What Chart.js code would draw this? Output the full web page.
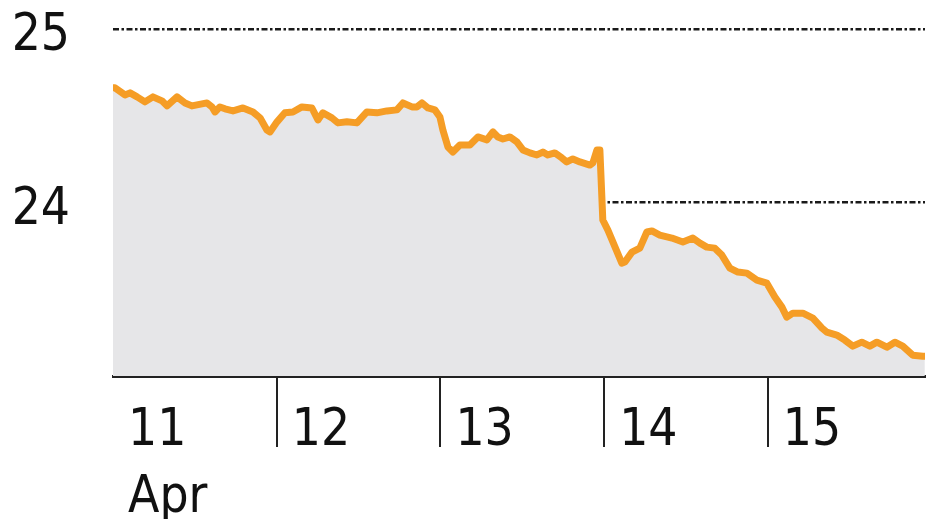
<!DOCTYPE html>
<html>
<head>
<meta charset="utf-8">
<script src="https://cdn.jsdelivr.net/npm/chart.js@4/dist/chart.umd.min.js"></script>
<style>
html,body{margin:0;padding:0;background:#fff;}
#wrap{width:940px;height:519px;}
</style>
</head>
<body>
<div id="wrap"><canvas id="c" width="940" height="519"></canvas></div>
<script>
// Days since start of 11 Apr
const dayOffsets = [0.000,0.012,0.073,0.104,0.147,0.195,0.244,0.299,0.330,0.391,0.440,0.482,0.574,0.605,0.623,0.653,0.684,0.733,0.794,0.855,0.898,0.940,0.959,
1.002,1.050,1.099,1.154,1.215,1.252,1.282,1.337,1.374,1.429,1.490,1.551,1.612,1.673,1.734,1.771,1.826,1.856,1.887,1.924,1.966,1.997,
2.015,2.046,2.076,2.119,2.180,2.229,2.284,2.321,2.351,2.382,2.424,2.467,2.504,2.547,2.589,2.626,2.656,2.699,2.742,2.772,2.809,2.852,2.913,2.931,2.956,2.974,2.992,
3.023,3.108,3.127,3.170,3.218,3.261,3.292,3.340,3.414,3.481,3.542,3.585,3.627,3.676,3.719,3.768,3.817,3.872,3.933,3.994,
4.043,4.086,4.116,4.153,4.214,4.275,4.331,4.360,4.421,4.470,4.519,4.574,4.623,4.666,4.727,4.776,4.824,4.885,4.947,4.959];
const prices = [24.661,24.661,24.620,24.632,24.609,24.580,24.609,24.586,24.557,24.609,24.574,24.557,24.574,24.551,24.522,24.551,24.540,24.528,24.545,24.522,24.488,24.418,24.407,
24.465,24.517,24.522,24.551,24.545,24.476,24.517,24.488,24.459,24.465,24.459,24.522,24.517,24.528,24.534,24.574,24.551,24.551,24.574,24.545,24.534,24.493,
24.418,24.320,24.291,24.332,24.332,24.378,24.361,24.407,24.378,24.366,24.378,24.349,24.303,24.286,24.274,24.291,24.274,24.286,24.257,24.234,24.251,24.234,24.216,24.228,24.303,24.303,23.899,
23.841,23.651,23.657,23.714,23.737,23.830,23.836,23.812,23.795,23.772,23.795,23.766,23.743,23.737,23.697,23.622,23.599,23.593,23.553,23.535,
23.455,23.397,23.339,23.362,23.362,23.334,23.276,23.253,23.236,23.207,23.172,23.195,23.172,23.195,23.166,23.195,23.172,23.120,23.114,23.114];
const xTickValues = [0,1,2,3,4];
const xTickLabels = [["11","Apr"],"12","13","14","15"];
const yTickValues = [24,25];
const yTickLabels = ["24","25"];

const FONT = "'DejaVu Sans Condensed','DejaVu Sans',sans-serif";

const points = dayOffsets.map((d,i)=>({x:d,y:prices[i]}));

new Chart(document.getElementById('c'), {
  type: 'line',
  data: {
    datasets: [{
      data: points,
      borderColor: '#f59d26',
      borderWidth: 7,
      backgroundColor: '#e6e6e8',
      fill: 'start',
      pointRadius: 0,
      tension: 0,
      borderJoinStyle: 'round',
      borderCapStyle: 'round'
    }]
  },
  options: {
    responsive: false,
    animation: false,
    events: [],
    layout: {autoPadding: false, padding: {top: 3, right: 15, left: 0, bottom: 0}},
    plugins: {legend: {display: false}, tooltip: {enabled: false}},
    scales: {
      x: {
        type: 'linear',
        min: 0,
        max: 4.96,
        afterBuildTicks: s => { s.ticks = xTickValues.map(v=>({value:v})); },
        afterFit: s => { s.height = 143; s.paddingLeft = 0; s.paddingRight = 0; },
        border: {display: true, color: '#222', width: 3},
        grid: {
          drawOnChartArea: false,
          drawTicks: true,
          tickLength: 71,
          lineWidth: 2,
          color: ctx => ctx.index === 0 ? 'rgba(0,0,0,0)' : '#222'
        },
        ticks: {
          autoSkip: false,
          maxRotation: 0,
          align: 'start',
          labelOffset: 15,
          padding: -48,
          color: '#111',
          font: {family: FONT, size: 51, lineHeight: 1.3},
          callback: (v, i) => xTickLabels[xTickValues.indexOf(v)]
        }
      },
      y: {
        min: 23,
        max: 25.15,
        afterBuildTicks: s => { s.ticks = yTickValues.map(v=>({value:v})); },
        afterFit: s => { s.width = 113; s.paddingTop = 0; s.paddingBottom = 0; },
        border: {display: false, dash: [6,2.5,2.5,2.5]},
        grid: {
          drawTicks: false,
          lineWidth: 2.5,
          color: '#1a1a1a'
        },
        ticks: {
          padding: 43,
          labelOffset: 8,
          color: '#111',
          font: {family: FONT, size: 51},
          callback: v => yTickLabels[yTickValues.indexOf(v)]
        }
      }
    }
  }
});
</script>
</body>
</html>
